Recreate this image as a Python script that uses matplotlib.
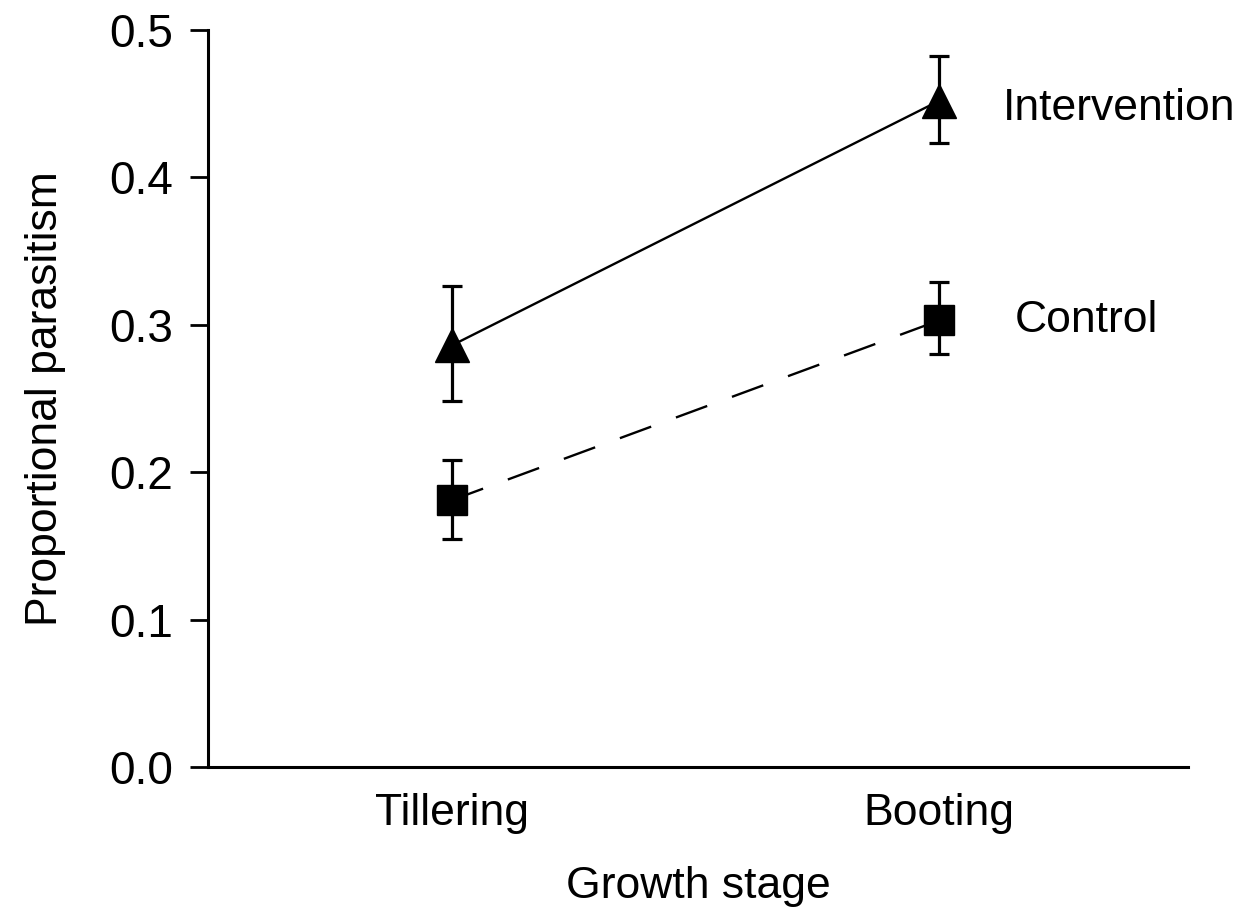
import numpy as np
import matplotlib

matplotlib.use("Agg")
import matplotlib.pyplot as plt

plt.rcParams["font.family"] = ["Liberation Sans Narrow", "Liberation Sans", "DejaVu Sans"]
plt.rcParams["lines.scale_dashes"] = False

stages = ["Tillering", "Booting"]
intervention = [0.286, 0.452]
intervention_lo = [0.248, 0.423]
intervention_hi = [0.326, 0.482]
control = [0.181, 0.303]
control_lo = [0.155, 0.280]
control_hi = [0.208, 0.329]

x = np.arange(len(stages))

fig = plt.figure(figsize=(12.42, 9.08), dpi=100)
ax = fig.add_axes([0.1675, 0.1553, 0.789, 0.8117])

err_kw = dict(ecolor="black", elinewidth=2.3, capsize=7, capthick=2.3, color="black")

ax.errorbar(x, intervention,
            yerr=[np.subtract(intervention, intervention_lo), np.subtract(intervention_hi, intervention)],
            marker="^", markersize=25, linewidth=1.7, linestyle="-", **err_kw)
ax.errorbar(x, control,
            yerr=[np.subtract(control, control_lo), np.subtract(control_hi, control)],
            marker="s", markersize=21, linewidth=1.7, dashes=(24, 19), **err_kw)

# series names sit just right of the Booting points
ax.text(1.13, intervention[1] - 0.005, "Intervention", fontsize=32, va="center", ha="left")
ax.text(1.155, control[1], "Control", fontsize=32, va="center", ha="left")

ax.set_xlim(-0.5, 1.51)
ax.set_ylim(0, 0.5)
ax.set_yticks(np.arange(0, 0.51, 0.1))
ax.set_yticklabels([f"{v:.1f}" for v in np.arange(0, 0.51, 0.1)], fontsize=33)
ax.set_xticks(x)
ax.set_xticklabels(stages, fontsize=32)
ax.tick_params(axis="y", length=13, width=2, pad=12)
ax.tick_params(axis="x", length=0, pad=19)

ax.spines["top"].set_visible(False)
ax.spines["right"].set_visible(False)
for s in ("left", "bottom"):
    ax.spines[s].set_linewidth(2.2)

ax.set_ylabel("Proportional parasitism", fontsize=32, labelpad=31)
ax.set_xlabel("Growth stage", fontsize=32, labelpad=23)

fig.savefig("out.png", facecolor="white")
